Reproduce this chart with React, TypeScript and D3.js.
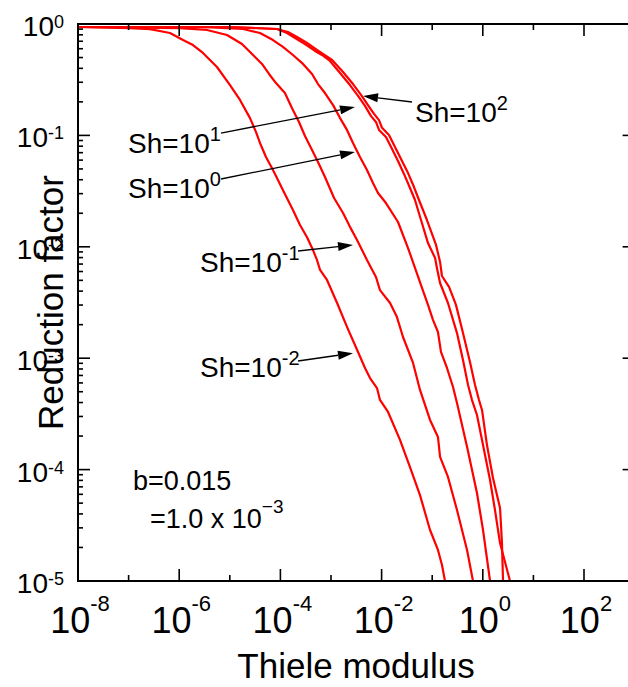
import React from 'react';
import * as d3 from 'd3';

// ---- data ----
const xMajorExps = ['-8', '-6', '-4', '-2', '0', '2'];
const yMajorExps = ['0', '-1', '-2', '-3', '-4', '-5'];

const shNames = ['Sh=10^-2', 'Sh=10^-1', 'Sh=10^0', 'Sh=10^1', 'Sh=10^2'];

const shM2: [number, number][] = [
  [1e-8, 0.94], [1.07e-7, 0.92], [2.65e-7, 0.9], [6.58e-7, 0.83], [1.19e-6, 0.718], [1.87e-6, 0.647],
  [2.95e-6, 0.55], [5.58e-6, 0.411], [1.01e-5, 0.283], [1.59e-5, 0.208], [2.51e-5, 0.143], [3.3e-5, 0.107],
  [3.95e-5, 0.0855], [5.19e-5, 0.064], [7.14e-5, 0.0489], [1.12e-4, 0.0324], [1.77e-4, 0.0214], [2.44e-4, 0.0157],
  [3.36e-4, 0.0122], [4.41e-4, 0.00935], [5.28e-4, 0.00762], [6.07e-4, 0.0062], [8.34e-4, 0.00504], [1.32e-3, 0.00313],
  [2.07e-3, 0.00191], [3.27e-3, 0.00119], [4.7e-3, 0.000817], [5.9e-3, 0.000664], [8.11e-3, 0.00054], [9.29e-3, 0.000422],
  [1.34e-2, 0.000329], [2.31e-2, 0.000185], [3.64e-2, 0.000105], [5.74e-2, 5.9e-5], [9.06e-2, 2.87e-5], [0.13, 1.9e-5],
  [0.156, 1.39e-5], [0.179, 1e-5],
];

const shM1: [number, number][] = [
  [1e-8, 0.94], [1.04e-6, 0.92], [3.54e-6, 0.884], [8.81e-6, 0.797], [1.74e-5, 0.661], [2.75e-5, 0.538],
  [4.33e-5, 0.438], [5.96e-5, 0.356], [8.18e-5, 0.295], [1.23e-4, 0.24], [1.69e-4, 0.176], [2.33e-4, 0.132],
  [3.06e-4, 0.0988], [4.22e-4, 0.074], [5.53e-4, 0.0577], [7.6e-4, 0.0423], [1.15e-3, 0.0274], [1.73e-3, 0.0201],
  [2.37e-3, 0.0151], [3.27e-3, 0.0115], [5.14e-3, 0.00762], [7.74e-3, 0.00536], [9.29e-3, 0.00409], [1.47e-2, 0.00313],
  [2.01e-2, 0.00234], [2.65e-2, 0.00155], [4.18e-2, 0.000906], [5.74e-2, 0.000519], [9.06e-2, 0.000279], [0.13, 0.000196],
  [0.143, 0.00013], [0.205, 8.59e-5], [0.309, 4.34e-5], [0.488, 1.9e-5], [0.64, 1e-5],
];

const sh0: [number, number][] = [
  [1e-8, 0.94], [2.58e-6, 0.94], [1.82e-5, 0.902], [3.95e-5, 0.83], [7.14e-5, 0.718], [1.12e-4, 0.622],
  [1.77e-4, 0.527], [2.8e-4, 0.438], [4.22e-4, 0.356], [5.53e-4, 0.289], [7.6e-4, 0.24], [1.1e-3, 0.187],
  [1.51e-3, 0.143], [2.07e-3, 0.112], [2.72e-3, 0.0855], [3.74e-3, 0.064], [5.14e-3, 0.0489], [6.76e-3, 0.0374],
  [8.49e-3, 0.0304], [1.22e-2, 0.0247], [2.11e-2, 0.0167], [3.33e-2, 0.00975], [4.57e-2, 0.00646], [6.28e-2, 0.00427],
  [8.26e-2, 0.00301], [0.104, 0.0022], [0.13, 0.00172], [0.149, 0.00114], [0.196, 0.000817], [0.258, 0.000551],
  [0.309, 0.000396], [0.488, 0.00016], [0.767, 6.17e-5], [1.01, 2.87e-5], [1.39, 1e-5],
];

const sh1: [number, number][] = [
  [1e-8, 0.94], [1.01e-5, 0.94], [8.57e-5, 0.902], [1.35e-4, 0.83], [1.95e-4, 0.748], [3.06e-4, 0.661],
  [4.83e-4, 0.573], [6.64e-4, 0.527], [9.55e-4, 0.466], [1.51e-3, 0.363], [2.37e-3, 0.283], [3.42e-3, 0.226],
  [4.7e-3, 0.184], [6.18e-3, 0.149], [7.74e-3, 0.132], [8.89e-3, 0.112], [1.22e-2, 0.0968], [1.61e-2, 0.0755],
  [2.11e-2, 0.0589], [2.77e-2, 0.0451], [3.64e-2, 0.0337], [4.57e-2, 0.0263], [6.01e-2, 0.0174], [8.26e-2, 0.0108],
  [0.114, 0.00793], [0.124, 0.00646], [0.143, 0.00473], [0.205, 0.00313], [0.309, 0.00168], [0.406, 0.000964],
  [0.511, 0.000574], [0.612, 0.000421], [0.767, 0.000309], [1.01, 0.000166], [1.39, 8.07e-5], [1.74, 4.34e-5],
  [2.19, 2.19e-5], [3.45, 1e-5],
];

const sh2: [number, number][] = [
  [1e-8, 0.94], [1.01e-5, 0.94], [8.57e-5, 0.902], [1.41e-4, 0.848], [2.13e-4, 0.764], [3.36e-4, 0.675],
  [5.28e-4, 0.584], [6.95e-4, 0.538], [1.05e-3, 0.475], [1.73e-3, 0.371], [2.72e-3, 0.289], [3.92e-3, 0.231],
  [5.38e-3, 0.187], [7.08e-3, 0.156], [8.89e-3, 0.137], [1.02e-2, 0.117], [1.4e-2, 0.101], [1.84e-2, 0.0787],
  [2.42e-2, 0.0614], [3.33e-2, 0.0459], [4.37e-2, 0.0344], [5.48e-2, 0.0263], [7.88e-2, 0.0174], [0.119, 0.0104],
  [0.143, 0.00731], [0.156, 0.00547], [0.215, 0.00436], [0.295, 0.00301], [0.406, 0.00168], [0.558, 0.000925],
  [0.702, 0.000574], [0.841, 0.000421], [0.964, 0.000343], [1.21, 0.000166], [1.59, 8.41e-5], [2.19, 4.52e-5],
  [2.29, 3.18e-5], [2.39, 2.19e-5], [2.51, 1e-5],
];

const series = [shM2, shM1, sh0, sh1, sh2];

// annotation texts and anchor points (data coordinates)
const annBase = ['Sh=10', 'Sh=10', 'Sh=10', 'Sh=10', 'Sh=10'];
const annExp = ['1', '0', '2', '-1', '-2'];
const annLabelAt: [number, number][] = [[9.73e-8, 0.0695], [9.73e-8, 0.0274], [4.57e-2, 0.132], [2.58e-6, 0.00594], [2.58e-6, 0.000678]];
const annFrom: [number, number][] = [[6.7e-6, 0.105], [6.7e-6, 0.0406], [3.99e-2, 0.1995], [2.23e-4, 0.00917], [2.23e-4, 0.000944]];
const annTo: [number, number][] = [[2.98e-3, 0.18], [2.98e-3, 0.071], [4.29e-3, 0.226], [2.72e-3, 0.0104], [2.72e-3, 0.00111]];

const paramText1 = 'b=0.015';
const paramText2 = '=1.0 x 10';
const paramText2Exp = '\u22123';
const paramAt1: [number, number] = [1.22e-7, 6.56e-5];
const paramAt2: [number, number] = [2.65e-7, 2.99e-5];

const xTitle = 'Thiele modulus';
const yTitle = 'Reduction factor';

// ---- layout ----
const W = 628;
const H = 687;
const L = 78;
const T = 24;
const B = 581;
const R = 634.6;
const FONT = '"Liberation Sans", Arial, Helvetica, sans-serif';

export default function App() {
  const x = d3.scaleLog().domain([1e-8, 1e3]).range([L, R]);
  const y = d3.scaleLog().domain([1e-5, 1]).range([B, T]);

  const line = d3
    .line<[number, number]>()
    .x((d) => x(d[0]))
    .y((d) => y(d[1]));

  const isPow = (v: number) => Math.abs(Math.log10(v) - Math.round(Math.log10(v))) < 1e-9;

  const xTickVals = x.ticks().filter(isPow);
  const xMajor = xTickVals.filter((v) => Math.round(Math.log10(v)) % 2 === 0);
  const xMinor = xTickVals.filter((v) => Math.round(Math.log10(v)) % 2 !== 0);
  const yTickVals = y.ticks();
  const yMajor = yTickVals.filter(isPow);
  const yMinor = yTickVals.filter((v) => !isPow(v));

  const ax = { stroke: '#000', strokeWidth: 2 };
  const tk = { stroke: '#000', strokeWidth: 1.6 };

  return (
    <svg
      width={W}
      height={H}
      style={{ position: 'absolute', left: 0, top: 0, display: 'block', background: '#fff' }}
      fontFamily={FONT}
    >
      <defs>
        <clipPath id="plotClip">
          <rect x={L} y={T - 2} width={R - L} height={B - T + 2} />
        </clipPath>
      </defs>
      <rect x={0} y={0} width={W} height={H} fill="#fff" />

      {/* curves */}
      <g clipPath="url(#plotClip)">
        {series.map((s, i) => (
          <path
            key={shNames[i]}
            d={line(s) || ''}
            fill="none"
            stroke="#ff0000"
            strokeWidth={2.2}
            strokeLinejoin="round"
          />
        ))}
      </g>

      {/* ticks */}
      {xMajor.map((v) => (
        <g key={'xM' + v}>
          <line x1={x(v)} x2={x(v)} y1={B} y2={B - 12} {...tk} />
          <line x1={x(v)} x2={x(v)} y1={T} y2={T + 12} {...tk} />
        </g>
      ))}
      {xMinor.map((v) => (
        <g key={'xm' + v}>
          <line x1={x(v)} x2={x(v)} y1={B} y2={B - 6} {...tk} />
          <line x1={x(v)} x2={x(v)} y1={T} y2={T + 6} {...tk} />
        </g>
      ))}
      {yMajor.map((v) => (
        <g key={'yM' + v}>
          <line x1={L} x2={L + 12} y1={y(v)} y2={y(v)} {...tk} />
          <line x1={R} x2={R - 12} y1={y(v)} y2={y(v)} {...tk} />
        </g>
      ))}
      {yMinor.map((v) => (
        <g key={'ym' + v}>
          <line x1={L} x2={L + 5} y1={y(v)} y2={y(v)} {...tk} />
          <line x1={R} x2={R - 5} y1={y(v)} y2={y(v)} {...tk} />
        </g>
      ))}

      {/* frame */}
      <line x1={L} x2={L} y1={T - 1} y2={B + 1} {...ax} />
      <line x1={L - 1} x2={R} y1={B} y2={B} {...ax} />
      <line x1={L - 1} x2={R} y1={T} y2={T} {...ax} />
      <line x1={R} x2={R} y1={T} y2={B} {...ax} />

      {/* x tick labels */}
      {xMajor.map((v, i) => (
        <text key={'xl' + v} x={x(v) + 2} y={633} fontSize={36} textAnchor="middle" fill="#000">
          10
          <tspan dy={-22} fontSize={22}>
            {xMajorExps[i]}
          </tspan>
        </text>
      ))}

      {/* y tick labels */}
      {yMajor
        .slice()
        .sort((a, b) => b - a)
        .map((v, i) => (
          <text key={'yl' + v} x={64} y={y(v) + 12} fontSize={28} textAnchor="end" fill="#000">
            10
            <tspan dy={-8} fontSize={18}>
              {yMajorExps[i]}
            </tspan>
          </text>
        ))}

      {/* axis titles */}
      <text x={356} y={678} fontSize={35} textAnchor="middle" fill="#000">
        {xTitle}
      </text>
      <text
        transform={`translate(63,${(T + B) / 2}) rotate(-90)`}
        fontSize={35}
        textAnchor="middle"
        fill="#000"
      >
        {yTitle}
      </text>

      {/* annotations */}
      {annBase.map((b, i) => {
        const [fx, fy] = [x(annFrom[i][0]), y(annFrom[i][1])];
        const [tx, ty] = [x(annTo[i][0]), y(annTo[i][1])];
        const ang = Math.atan2(ty - fy, tx - fx);
        const len = 15;
        const hw = 4.5;
        const bx = tx - len * Math.cos(ang);
        const by = ty - len * Math.sin(ang);
        const px = -Math.sin(ang) * hw;
        const py = Math.cos(ang) * hw;
        return (
          <g key={'ann' + i}>
            <text x={x(annLabelAt[i][0])} y={y(annLabelAt[i][1])} fontSize={28} fill="#000">
              {b}
              <tspan dy={-12} fontSize={20}>
                {annExp[i]}
              </tspan>
            </text>
            <line x1={fx} y1={fy} x2={bx} y2={by} stroke="#000" strokeWidth={1.3} />
            <polygon
              points={`${tx},${ty} ${bx + px},${by + py} ${bx - px},${by - py}`}
              fill="#000"
            />
          </g>
        );
      })}

      <text x={x(paramAt1[0])} y={y(paramAt1[1])} fontSize={27} fill="#000">
        {paramText1}
      </text>
      <text x={x(paramAt2[0])} y={y(paramAt2[1])} fontSize={27} fill="#000">
        {paramText2}
        <tspan dy={-15} fontSize={19}>
          {paramText2Exp}
        </tspan>
      </text>
    </svg>
  );
}
